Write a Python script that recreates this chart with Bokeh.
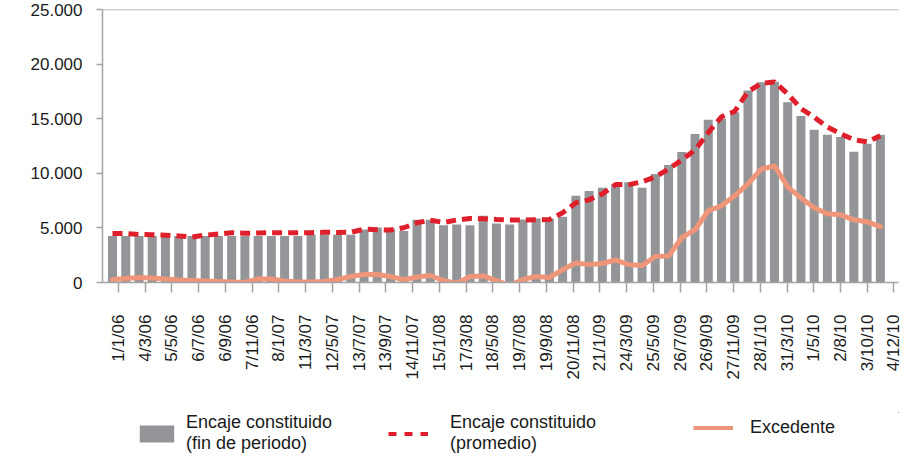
import math
from bokeh.plotting import figure
from bokeh.layouts import column
from bokeh.models import ColumnDataSource, FixedTicker, Legend, LegendItem, Range1d
from bokeh.embed import file_html
from bokeh.resources import INLINE

# ---- data ----
tick_labels = ["1/1/06", "4/3/06", "5/5/06", "6/7/06", "6/9/06", "7/11/06",
               "8/1/07", "11/3/07", "12/5/07", "13/7/07", "13/9/07", "14/11/07",
               "15/1/08", "17/3/08", "18/5/08", "19/7/08", "19/9/08", "20/11/08",
               "21/1/09", "24/3/09", "25/5/09", "26/7/09", "26/9/09", "27/11/09",
               "28/1/10", "31/3/10", "1/5/10", "2/8/10", "3/10/10", "4/12/10"]

y_ticks = [0, 5000, 10000, 15000, 20000, 25000]
y_tick_labels = ["0", "5.000", "10.000", "15.000", "20.000", "25.000"]

fin_periodo = [4270, 4270, 4270, 4270, 4270, 4270, 4270, 4270, 4270, 4270,
               4270, 4270, 4270, 4270, 4270, 4380, 4380, 4380, 4380, 4870,
               5050, 4930, 4720, 5750, 5750, 5240, 5330, 5240, 6120, 5420,
               5330, 5780, 5880, 5880, 6030, 7950, 8400, 8680, 8980, 9200,
               8680, 9960, 10780, 11970, 13610, 14920, 15010, 15620, 17600, 18360,
               18420, 16530, 15280, 14000, 13550, 13340, 11990, 12730, 13550]

promedio = [4500, 4500, 4410, 4380, 4340, 4270, 4170, 4340, 4450, 4570,
            4520, 4540, 4570, 4570, 4570, 4570, 4610, 4590, 4610, 4890,
            4840, 4810, 5020, 5480, 5710, 5510, 5730, 5870, 5850, 5780,
            5730, 5730, 5750, 5780, 6390, 7310, 7580, 8130, 8980, 8980,
            9230, 9680, 10410, 11240, 12150, 13750, 15200, 15700, 17500, 18270,
            18400, 17300, 15950, 15160, 14250, 13640, 13100, 12900, 13450]

excedente = [250, 370, 460, 410, 320, 230, 180, 140, 90, 50,
             0, 320, 320, 140, 50, 50, 90, 270, 550, 730,
             730, 550, 250, 500, 640, 180, -90, 550, 600, 180,
             -270, 270, 550, 460, 1190, 1780, 1640, 1740, 2060, 1640,
             1550, 2380, 2420, 4110, 4840, 6580, 7030, 7950, 9040, 10410,
             10690, 8770, 7760, 6850, 6300, 6210, 5750, 5570, 5120]

legend_labels = ["Encaje constituido\n(fin de periodo)",
                 "Encaje constituido\n(promedio)",
                 "Excedente"]

# ---- styling ----
FONT = "Liberation Sans"
AXIS_GRAY = "#a3a3a3"
TEXT = "#1a1a1a"
BAR_GRAY = "#939598"
RED = "#e01f2d"
ORANGE = "#ef957a"
W = 905
LEFT = 102
RIGHT = 7

idx = list(range(len(fin_periodo)))
src = ColumnDataSource(dict(x=idx, fin=fin_periodo, prom=promedio, exc=excedente))

p = figure(width=W, height=412, output_backend="svg", toolbar_location=None,
           x_range=Range1d(-0.755, 59.37), y_range=Range1d(0, 25040),
           min_border_left=LEFT, min_border_right=RIGHT, min_border_top=9,
           min_border_bottom=130)
p.outline_line_color = None
p.background_fill_color = "white"
p.border_fill_color = "white"
p.xgrid.visible = False
p.ygrid.ticker = FixedTicker(ticks=[25000])
p.ygrid.grid_line_color = AXIS_GRAY
p.ygrid.grid_line_width = 1.5

bars = p.vbar(x="x", top="fin", bottom=0, width=0.68, source=src,
              fill_color=BAR_GRAY, line_color=None)
prom_r = p.line("x", "prom", source=src, line_color=RED, line_width=5,
                line_dash="10 6")
exc_r = p.line("x", "exc", source=src, line_color=ORANGE, line_width=5,
               line_join="round", line_cap="round")

# y axis
p.yaxis.ticker = FixedTicker(ticks=y_ticks)
p.yaxis.major_label_overrides = {t: l for t, l in zip(y_ticks, y_tick_labels)}
p.yaxis.major_tick_out = 6
p.yaxis.major_tick_in = 0
p.yaxis.major_label_standoff = 14

# x axis
tick_pos = [round(0.45 + 2.02 * k, 3) for k in range(len(tick_labels))]
p.xaxis.ticker = FixedTicker(ticks=tick_pos)
p.xaxis.major_label_overrides = {t: l for t, l in zip(tick_pos, tick_labels)}
p.xaxis.major_label_orientation = math.pi / 2
p.xaxis.major_tick_out = 10
p.xaxis.major_tick_in = 0
p.xaxis.major_label_standoff = 22

for ax in (p.xaxis[0], p.yaxis[0]):
    ax.axis_line_color = AXIS_GRAY
    ax.axis_line_width = 1.5
    ax.major_tick_line_color = AXIS_GRAY
    ax.major_tick_line_width = 1.5
    ax.minor_tick_line_color = None
    ax.major_label_text_font = FONT
    ax.major_label_text_font_size = "17px"
    ax.major_label_text_color = TEXT

# ---- legend strip below the chart ----
# Same series are drawn here against ranges that keep them out of view,
# so only their legend swatches show.
lf = figure(width=W, height=44, output_backend="svg", toolbar_location=None,
            x_range=Range1d(-200, -199), y_range=Range1d(-200, -199),
            x_axis_type=None, y_axis_type=None, min_border=0,
            min_border_left=LEFT, min_border_right=RIGHT)
lf.outline_line_color = None
lf.background_fill_color = "white"
lf.border_fill_color = "white"

k_bar = lf.vbar(x="x", top="fin", bottom=0, width=0.68, source=src,
                fill_color=BAR_GRAY, line_color=None)
k_prom = lf.line("x", "prom", source=src, line_color=RED, line_width=4,
                 line_dash="8 8")
k_exc = lf.line("x", "exc", source=src, line_color=ORANGE, line_width=4)


def add_legend(label, renderer, x, y, gw, standoff):
    lg = Legend(items=[LegendItem(label=label, renderers=[renderer])],
                location=(x - LEFT, y), orientation="horizontal",
                glyph_width=gw, glyph_height=21, label_standoff=standoff,
                label_text_font=FONT, label_text_font_size="18px",
                label_text_color=TEXT, label_text_line_height=1.15,
                border_line_color=None, background_fill_alpha=0,
                padding=0, margin=0, spacing=0)
    lf.add_layout(lg, "center")


add_legend(legend_labels[0], k_bar, 135, 2, 43, 8)
add_legend(legend_labels[1], k_prom, 388, 2, 40, 22)
add_legend(legend_labels[2], k_exc, 693, 18, 40, 17)

page = column(p, lf, spacing=0)
open("out.html", "w").write(file_html(page, INLINE))
